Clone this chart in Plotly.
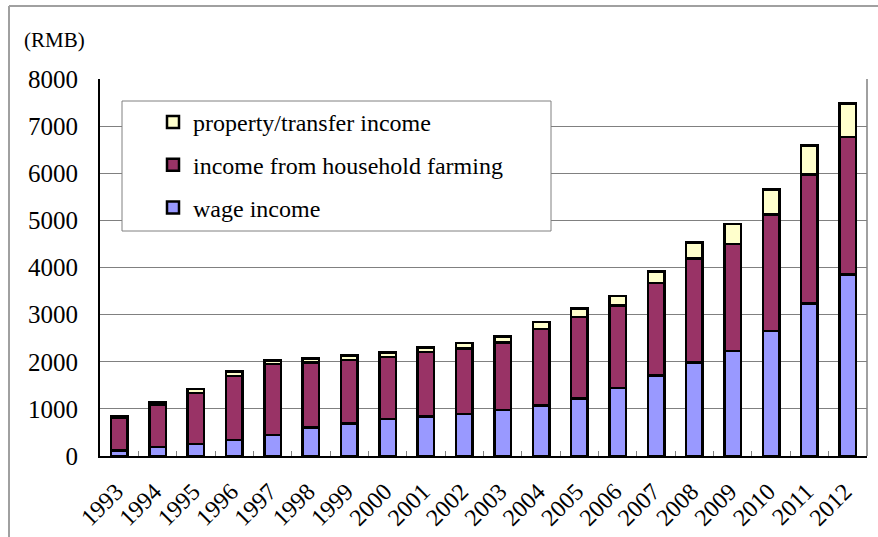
import plotly.graph_objects as go

years = [str(y) for y in range(1993, 2013)]
wage = [115, 190, 250, 340, 450, 600, 695, 780, 835, 895,
        980, 1075, 1225, 1445, 1705, 1985, 2225, 2655, 3240, 3855]
farming = [690, 900, 1085, 1360, 1500, 1385, 1340, 1320, 1370, 1385,
           1430, 1625, 1725, 1745, 1965, 2205, 2270, 2475, 2735, 2915]
prop = [40, 60, 85, 95, 80, 80, 95, 100, 95, 120,
        130, 140, 175, 210, 240, 340, 430, 520, 615, 710]

FONT = "Liberation Serif"
W, H = 878, 537
L, R, T, B = 100, 11, 79, 81
pw, ph = W - L - R, H - T - B

def px(x):
    return (x - L) / pw

def py(y):
    return (H - B - y) / ph

fig = go.Figure()
line = dict(color="black", width=2.5)
fig.add_bar(x=years, y=wage, name="wage income", legendgroup="a", legendrank=3,
            marker=dict(color="#9999FF", line=line))
fig.add_bar(x=years, y=farming, name="income from household farming", legendgroup="b",
            legendrank=2, marker=dict(color="#993366", line=line))
fig.add_bar(x=years, y=prop, name="property/transfer income", legendgroup="c",
            legendrank=1, marker=dict(color="#FFFFCC", line=line))

fig.update_layout(
    width=W, height=H,
    margin=dict(l=L, r=R, t=T, b=B),
    barmode="stack", bargap=0.57,
    plot_bgcolor="white", paper_bgcolor="white",
    font=dict(family=FONT, size=24, color="black"),
    showlegend=True,
    legend=dict(x=px(153), xanchor="left", y=py(100), yanchor="top",
                traceorder="grouped", tracegroupgap=8.5,
                bgcolor="rgba(0,0,0,0)", borderwidth=0,
                font=dict(family=FONT, size=24, color="black")),
)
fig.update_xaxes(type="category", showgrid=False, showline=True, linecolor="black",
                 linewidth=2, ticks="inside", tickson="boundaries", ticklen=5,
                 tickcolor="#808080", tickangle=-45, ticklabelstandoff=10,
                 ticklabelshift=-3, automargin=False,
                 tickfont=dict(family=FONT, size=24))
fig.update_yaxes(range=[0, 8000], dtick=1000, showgrid=True, gridcolor="#808080",
                 gridwidth=1, zeroline=False, showline=True, linecolor="black",
                 linewidth=2, ticks="", ticklabelstandoff=15, automargin=False,
                 tickfont=dict(family=FONT, size=25))

# right border of plot area
fig.add_shape(type="line", xref="paper", yref="paper", x0=1, x1=1, y0=0, y1=1,
              line=dict(color="#808080", width=1.5))
# legend frame
fig.add_shape(type="rect", xref="paper", yref="paper", layer="above",
              x0=px(122), x1=px(551), y0=py(231), y1=py(101),
              fillcolor="white", line=dict(color="#808080", width=1))
# outer chart frame
fig.add_shape(type="line", xref="paper", yref="paper", x0=px(9), x1=px(9),
              y0=py(540), y1=py(6), line=dict(color="#A0A0A0", width=2))
fig.add_shape(type="line", xref="paper", yref="paper", x0=px(9), x1=px(880),
              y0=py(6), y1=py(6), line=dict(color="#A0A0A0", width=2))

fig.add_annotation(text="(RMB)", xref="paper", yref="paper", x=px(54), y=py(40),
                   xanchor="center", yanchor="middle", showarrow=False,
                   font=dict(family=FONT, size=21, color="black"))

fig.write_html("out.html")
